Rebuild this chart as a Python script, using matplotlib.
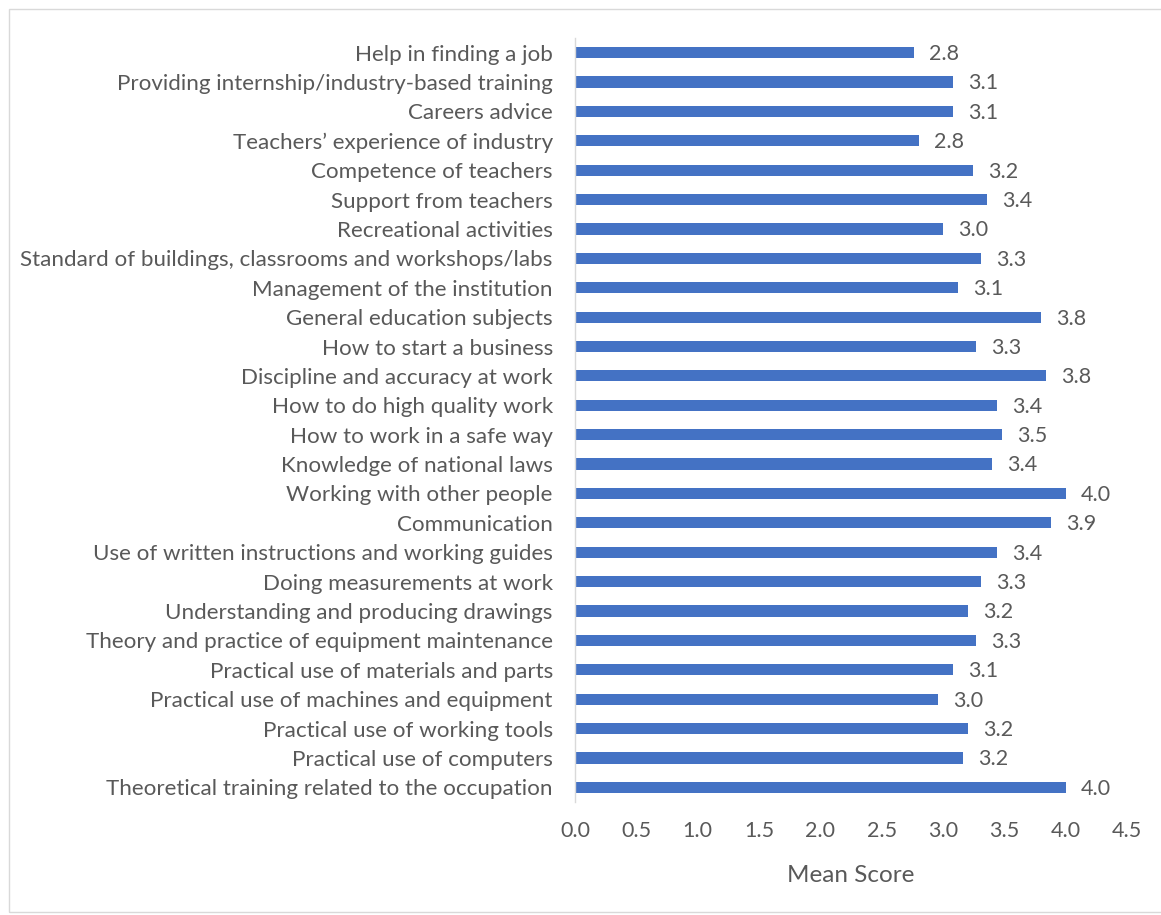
import matplotlib.pyplot as plt
from matplotlib.patches import Rectangle

# Survey items, listed bottom to top as they appear on the chart
categories = [
    'Theoretical training related to the occupation',
    'Practical use of computers',
    'Practical use of working tools',
    'Practical use of machines and equipment',
    'Practical use of materials and parts',
    'Theory and practice of equipment maintenance',
    'Understanding and producing drawings',
    'Doing measurements at work',
    'Use of written instructions and working guides',
    'Communication',
    'Working with other people',
    'Knowledge of national laws',
    'How to work in a safe way',
    'How to do high quality work',
    'Discipline and accuracy at work',
    'How to start a business',
    'General education subjects',
    'Management of the institution',
    'Standard of buildings, classrooms and workshops/labs',
    'Recreational activities',
    'Support from teachers',
    'Competence of teachers',
    'Teachers\u2019 experience of industry',
    'Careers advice',
    'Providing internship/industry-based training',
    'Help in finding a job',
]

mean_scores = [
    4.00, 3.16, 3.20, 2.96, 3.08, 3.27, 3.20, 3.31, 3.44, 3.88,
    4.00, 3.40, 3.48, 3.44, 3.84, 3.27, 3.80, 3.12, 3.31, 3.00,
    3.36, 3.24, 2.80, 3.08, 3.08, 2.76,
]

x_ticks = [0.0, 0.5, 1.0, 1.5, 2.0, 2.5, 3.0, 3.5, 4.0, 4.5]

bar_color = '#4472C4'
text_color = '#595959'
plt.rcParams['font.family'] = ['Lato', 'DejaVu Sans']

fig = plt.figure(figsize=(11.61, 9.15), dpi=100)
ax = fig.add_axes([0.4953, 0.1235, 0.4756, 0.8350])

pos = list(range(len(categories)))
bars = ax.barh(pos, mean_scores, height=0.38, color=bar_color)

for bar, val in zip(bars, mean_scores):
    ax.annotate(f'{val:.1f}', xy=(bar.get_width(), bar.get_y() + bar.get_height() / 2),
                xytext=(11, -1), textcoords='offset points', ha='left', va='center',
                fontsize=15.5, color=text_color)

ax.set_ylim(-0.5, len(categories) - 0.5)
ax.set_xlim(0, 4.5)
ax.set_yticks(pos)
ax.set_yticklabels(categories, fontsize=16.1, color=text_color)
ax.set_xticks(x_ticks)
ax.set_xticklabels([f'{t:.1f}' for t in x_ticks], fontsize=15.5, color=text_color)
ax.tick_params(axis='y', length=0, pad=16)
ax.tick_params(axis='x', length=0, pad=14)
ax.set_xlabel('Mean Score', fontsize=17.5, color=text_color, labelpad=17)

for side in ['top', 'right', 'bottom']:
    ax.spines[side].set_visible(False)
ax.spines['left'].set_color('#d9d9d9')
ax.spines['left'].set_linewidth(1.0)

# light frame around the chart area
fig.patches.append(Rectangle((0.008, 0.003), 1.0, 0.987, transform=fig.transFigure,
                             fill=False, edgecolor='#d9d9d9', linewidth=1.0))

fig.savefig('out.png', dpi=100)
